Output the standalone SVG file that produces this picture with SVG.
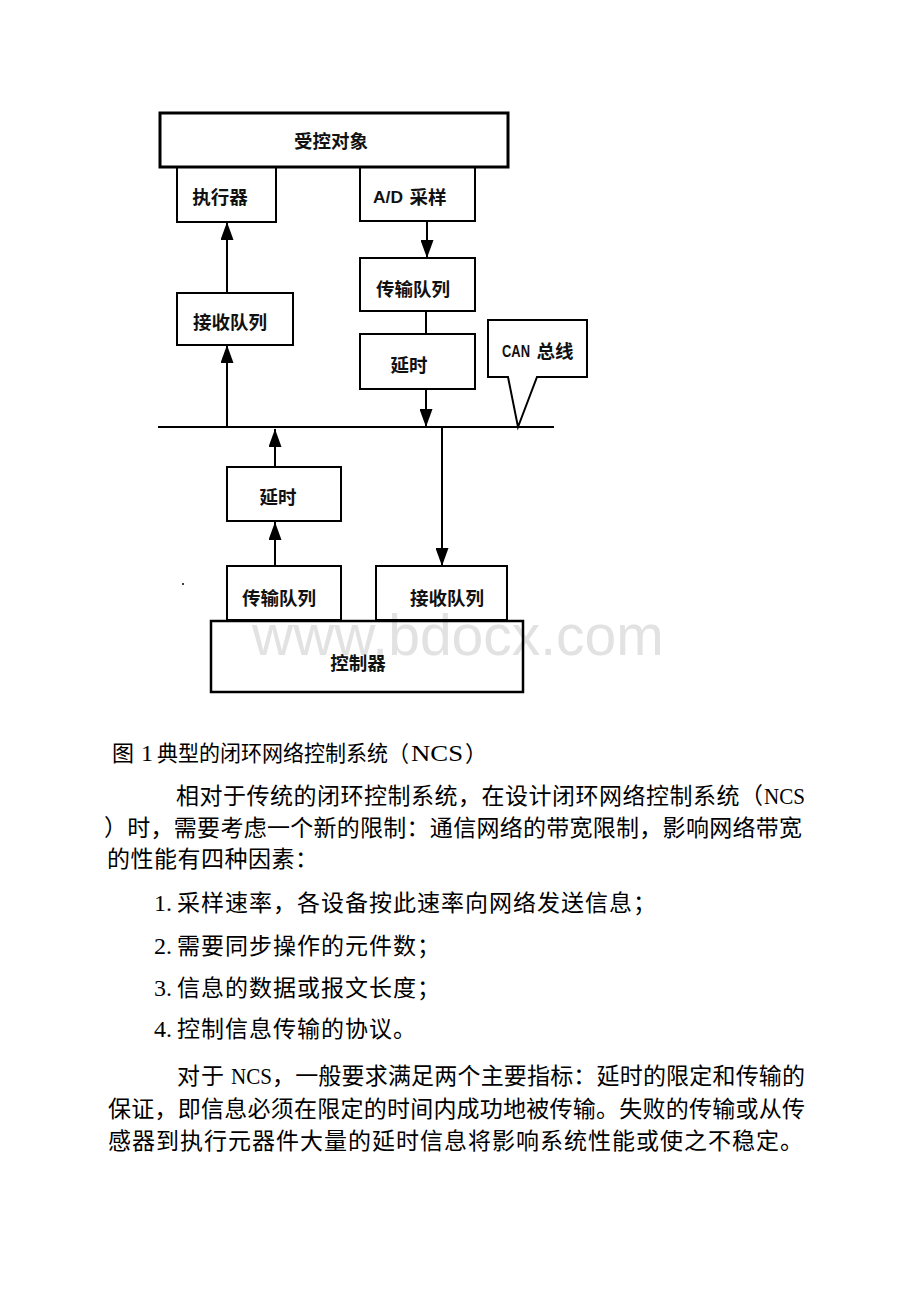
<svg xmlns="http://www.w3.org/2000/svg" width="920" height="1302" viewBox="0 0 920 1302">
<style>
.box{fill:none;stroke:#000;stroke-width:2}
.lbl{font-family:"Noto Sans CJK SC",sans-serif;font-size:18.5px;font-weight:700;fill:#111;text-anchor:middle}
.lat{font-family:"Liberation Sans",sans-serif;font-size:17px;font-weight:700;fill:#111}
.cn{font-family:"Noto Sans CJK SC",sans-serif;font-size:23px;fill:#000}
.cap{font-family:"Noto Sans CJK SC",sans-serif;font-size:22px;fill:#000}
.en{font-family:"Liberation Serif",serif;font-size:24px;fill:#000}
.ln{stroke:#000;stroke-width:2;fill:none}
.wm{font-family:"Liberation Sans",Arial,sans-serif;font-size:57px;fill:#e2e2e2}
</style>
<defs>
<marker id="ah" viewBox="0 0 18 13" refX="18" refY="6.5" markerWidth="18" markerHeight="13" markerUnits="userSpaceOnUse" orient="auto">
<path d="M0,0 L18,6.5 L0,13 Z" fill="#000"/>
</marker>
</defs>
<rect width="920" height="1302" fill="#fff"/>
<text class="wm" x="252" y="655">www.bdocx.com</text>

<g id="connectors">
<line class="ln" x1="158" y1="427" x2="554" y2="427"/>
<line class="ln" x1="427" y1="221" x2="427" y2="258" marker-end="url(#ah)"/>
<line class="ln" x1="426" y1="311" x2="426" y2="334"/>
<line class="ln" x1="426" y1="389" x2="426" y2="427" marker-end="url(#ah)"/>
<line class="ln" x1="227" y1="427" x2="227" y2="345" marker-end="url(#ah)"/>
<line class="ln" x1="227" y1="293" x2="227" y2="222" marker-end="url(#ah)"/>
<line class="ln" x1="275" y1="467" x2="275" y2="429" marker-end="url(#ah)"/>
<line class="ln" x1="275" y1="566" x2="275" y2="522" marker-end="url(#ah)"/>
<line class="ln" x1="442" y1="427" x2="442" y2="566" marker-end="url(#ah)"/>
</g>

<g id="plant">
<rect class="box" x="160" y="113" width="348" height="54" style="stroke-width:3"/>
<text class="lbl" x="331" y="148">受控对象</text>
</g>
<g id="actuator">
<rect class="box" x="177" y="167" width="99" height="55"/>
<text class="lbl" x="220" y="204">执行器</text>
</g>
<g id="ad-sampling">
<rect class="box" x="360" y="167" width="115" height="54"/>
<text class="lat" x="373" y="203" textLength="30" lengthAdjust="spacingAndGlyphs">A/D</text>
<text class="lbl" x="428" y="204">采样</text>
</g>
<g id="tx-queue-top">
<rect class="box" x="360" y="258" width="115" height="53"/>
<text class="lbl" x="413" y="296">传输队列</text>
</g>
<g id="rx-queue-left">
<rect class="box" x="177" y="293" width="116" height="52"/>
<text class="lbl" x="230" y="329">接收队列</text>
</g>
<g id="delay-top">
<rect class="box" x="360" y="334" width="115" height="55"/>
<text class="lbl" x="409" y="372">延时</text>
</g>
<g id="can-bus">
<path class="box" d="M488,320 H587 V377 H537 L518,427 L508,377 H488 Z"/>
<text class="lat" x="502" y="357" textLength="28" lengthAdjust="spacingAndGlyphs">CAN</text>
<text class="lbl" x="555" y="358">总线</text>
</g>
<g id="delay-bottom">
<rect class="box" x="227" y="467" width="114" height="54"/>
<text class="lbl" x="278" y="504">延时</text>
</g>
<g id="tx-queue-bottom">
<rect class="box" x="227" y="566" width="114" height="54"/>
<text class="lbl" x="279" y="605">传输队列</text>
</g>
<g id="rx-queue-bottom">
<rect class="box" x="376" y="566" width="131" height="54"/>
<text class="lbl" x="447" y="605">接收队列</text>
</g>
<g id="controller">
<rect class="box" x="211" y="621" width="312" height="71" style="stroke-width:2.5"/>
<text class="lbl" x="358" y="670">控制器</text>
</g>
<circle cx="183" cy="584" r="1" fill="#000"/>

<g id="caption">
<text class="cap" x="112" y="761">图</text>
<text class="en" x="141" y="761">1</text>
<text class="cap" x="157" y="761" textLength="252" lengthAdjust="spacingAndGlyphs">典型的闭环网络控制系统（</text>
<text class="en" x="411" y="761" textLength="52" lengthAdjust="spacingAndGlyphs">NCS</text>
<text class="cap" x="465" y="761">）</text>
</g>

<g id="body">
<text class="cn" x="176" y="804" textLength="587" lengthAdjust="spacing">相对于传统的闭环控制系统，在设计闭环网络控制系统（</text>
<text class="en" x="764" y="804" textLength="41" lengthAdjust="spacingAndGlyphs">NCS</text>
<text class="cn" x="104" y="836" textLength="698" lengthAdjust="spacing">）时，需要考虑一个新的限制：通信网络的带宽限制，影响网络带宽</text>
<text class="cn" x="107" y="867" style="letter-spacing:0.5px">的性能有四种因素：</text>

<text class="en" x="154" y="911">1.</text>
<text class="cn" x="177" y="911" style="letter-spacing:1px">采样速率，各设备按此速率向网络发送信息；</text>
<text class="en" x="154" y="954">2.</text>
<text class="cn" x="177" y="954" style="letter-spacing:1px">需要同步操作的元件数；</text>
<text class="en" x="154" y="996">3.</text>
<text class="cn" x="177" y="996" style="letter-spacing:1px">信息的数据或报文长度；</text>
<text class="en" x="154" y="1037">4.</text>
<text class="cn" x="177" y="1037" style="letter-spacing:1px">控制信息传输的协议。</text>

<text class="cn" x="177" y="1084" style="letter-spacing:1px">对于</text>
<text class="en" x="231" y="1084" textLength="41" lengthAdjust="spacingAndGlyphs">NCS</text>
<text class="cn" x="272" y="1084" textLength="533" lengthAdjust="spacing">，一般要求满足两个主要指标：延时的限定和传输的</text>
<text class="cn" x="108" y="1117" textLength="697" lengthAdjust="spacing">保证，即信息必须在限定的时间内成功地被传输。失败的传输或从传</text>
<text class="cn" x="108" y="1149" style="letter-spacing:1px">感器到执行元器件大量的延时信息将影响系统性能或使之不稳定。</text>
</g>
</svg>
